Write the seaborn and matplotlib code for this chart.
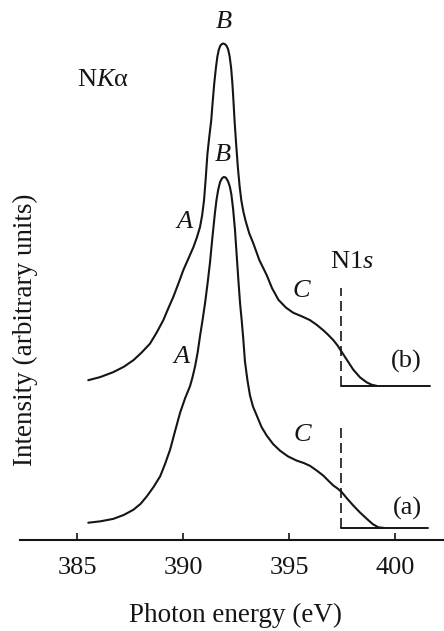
import numpy as np
import pandas as pd
import matplotlib
matplotlib.use("Agg")
import matplotlib.pyplot as plt
import seaborn as sns

# 数据
energy_a = [385.53, 386.10, 386.71, 387.20, 387.66, 388.00, 388.29, 388.60, 388.92, 389.15,
            389.39, 389.62, 389.86, 390.10, 390.33, 390.45, 390.57, 390.69, 390.80, 390.92,
            391.04, 391.16, 391.27, 391.39, 391.50, 391.58, 391.66, 391.75, 391.85, 391.93,
            392.02, 392.12, 392.21, 392.28, 392.36, 392.45, 392.53, 392.61, 392.69, 392.77,
            392.84, 392.92, 393.04, 393.16, 393.30, 393.48, 393.70, 393.95, 394.25, 394.58,
            394.95, 395.36, 395.70, 395.99, 396.30, 396.62, 396.85, 397.09, 397.30, 397.49,
            397.75, 398.03, 398.35, 398.67, 398.95, 399.21, 399.50]
intensity_a = [1.5, 1.9, 2.6, 3.7, 5.2, 6.9, 9.0, 11.6, 14.7, 18.2,
               22.3, 27.5, 32.8, 37.0, 40.4, 43.0, 46.1, 50.0, 54.6, 59.2,
               64.1, 69.8, 75.5, 83.0, 89.5, 93.5, 96.4, 98.6, 99.7, 100.0,
               99.8, 98.8, 97.2, 95.0, 91.0, 85.0, 77.8, 70.7, 64.0, 59.0,
               54.0, 47.5, 42.0, 37.7, 34.6, 32.0, 28.8, 26.3, 23.9, 22.0,
               20.4, 19.2, 18.5, 17.7, 16.4, 14.9, 13.5, 12.1, 11.2, 10.2,
               8.3, 6.4, 4.4, 2.6, 1.1, 0.2, 0.0]

energy_b = [385.53, 386.10, 386.71, 387.20, 387.66, 388.05, 388.44, 388.75, 389.07, 389.30,
            389.54, 389.78, 390.01, 390.25, 390.49, 390.65, 390.80, 390.90, 390.99, 391.07,
            391.15, 391.24, 391.33, 391.40, 391.47, 391.55, 391.62, 391.69, 391.76, 391.84,
            391.91, 391.98, 392.06, 392.13, 392.20, 392.27, 392.33, 392.38, 392.43, 392.51,
            392.59, 392.67, 392.75, 392.85, 392.95, 393.12, 393.32, 393.60, 393.95, 394.20,
            394.50, 394.85, 395.20, 395.60, 395.99, 396.30, 396.62, 396.85, 397.09, 397.30,
            397.49, 397.75, 398.03, 398.35, 398.66, 398.90, 399.13]
intensity_b = [1.6, 2.5, 3.9, 5.4, 7.3, 9.5, 12.0, 15.1, 18.7, 22.0,
               25.3, 29.1, 32.9, 36.2, 39.5, 42.2, 45.2, 48.5, 52.8, 59.0,
               66.0, 71.0, 75.6, 81.0, 86.0, 90.5, 93.8, 95.8, 96.9, 97.4,
               97.5, 97.3, 96.8, 95.8, 93.8, 90.5, 86.0, 81.0, 75.6, 68.5,
               62.0, 56.8, 52.8, 49.5, 47.0, 43.5, 40.5, 35.8, 31.5, 27.8,
               24.5, 22.3, 20.8, 19.8, 18.7, 17.4, 15.8, 14.5, 13.0, 11.4,
               9.6, 7.2, 4.6, 2.4, 1.0, 0.3, 0.0]
offset_b = 40.5

n1s_edge = 397.45
baseline_end = [401.55, 401.65]
edge_height = [29.3, 28.0]

xticks = [385, 390, 395, 400]

sns.set_theme(style="white")
plt.rcParams["font.family"] = ["Liberation Serif", "DejaVu Serif"]
plt.rcParams["mathtext.fontset"] = "custom"
plt.rcParams["mathtext.rm"] = "Liberation Serif"
plt.rcParams["mathtext.it"] = "Liberation Serif:italic"

ink = "#151515"

fig = plt.figure(figsize=(4.44, 6.31), dpi=100)
ax = fig.add_axes([20 / 444, 91 / 631, 424 / 444, 540 / 631])

df_a = pd.DataFrame({"energy": energy_a, "intensity": intensity_a})
df_b = pd.DataFrame({"energy": energy_b, "intensity": np.array(intensity_b) + offset_b})

sns.lineplot(data=df_a, x="energy", y="intensity", ax=ax, color=ink, lw=1.5, estimator=None, sort=False)
sns.lineplot(data=df_b, x="energy", y="intensity", ax=ax, color=ink, lw=1.5, estimator=None, sort=False)

# N1s 边 + 基线
for base, end, h in zip([0, offset_b], baseline_end, edge_height):
    ax.plot([n1s_edge, end], [base, base], color=ink, lw=1.4)
    ax.plot([n1s_edge, n1s_edge], [base, base + h], color=ink, lw=1.2, ls=(0, (6, 3)))

# 标注
lab = dict(fontsize=19, color=ink, ha="center", va="center")
ax.text(391.93, 144.2, "B", style="italic", **lab)
ax.text(391.90, 106.3, "B", style="italic", **lab)
ax.text(390.09, 87.2, "A", style="italic", **lab)
ax.text(389.95, 48.7, "A", style="italic", **lab)
ax.text(395.57, 67.5, "C", style="italic", **lab)
ax.text(395.61, 26.5, "C", style="italic", **lab)
ax.text(397.97, 75.8, r"N1$s$", **lab)
ax.text(400.52, 47.3, "(b)", **lab)
ax.text(400.57, 5.7, "(a)", **lab)
ax.text(386.23, 127.6, "N$K$α", **lab)

ax.set_xlim(382.31, 402.31)
ax.set_ylim(-3.42, 150.4)
ax.set_xticks(xticks)
ax.set_yticks([])
ax.tick_params(axis="x", direction="in", length=5, width=1.2, color=ink,
               labelsize=19, labelcolor=ink, pad=12, bottom=True)
for s in ["left", "right", "top"]:
    ax.spines[s].set_visible(False)
ax.spines["bottom"].set_linewidth(1.5)
ax.spines["bottom"].set_color(ink)
ax.patch.set_alpha(0)

ax.set_xlabel("")
ax.set_ylabel("")
fig.text(235 / 444, 1 - 621.5 / 631, "Photon energy (eV)", fontsize=19.5, color=ink,
         ha="center", va="baseline")
fig.text(25 / 444, 1 - 330 / 631, "Intensity (arbitrary units)", fontsize=19.5, color=ink,
         ha="center", va="center", rotation=90)

fig.savefig("out.png", dpi=100)
